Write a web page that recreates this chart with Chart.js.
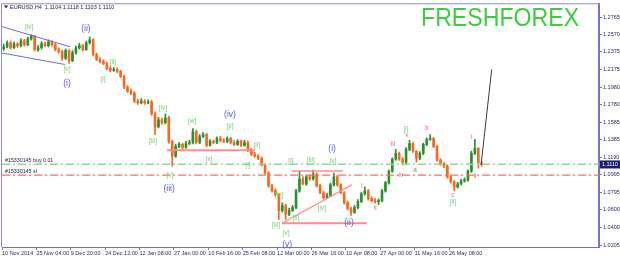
<!DOCTYPE html>
<html>
<head>
<meta charset="utf-8">
<script src="https://cdn.jsdelivr.net/npm/chart.js@4/dist/chart.umd.min.js"></script>
<style>
html, body { margin: 0; padding: 0; background: #fff; }
#myChart { display: block; }
</style>
</head>
<body>
<canvas id="myChart" width="620" height="257"></canvas>
<script>
'use strict';

// candles (about one candle per 3.4 px)
const opens = [
  1.2410,1.2432,1.2477,1.2421,1.2466,1.2444,1.2499,1.2455,1.2521,1.2554,
  1.2399,1.2421,1.2466,1.2444,1.2488,1.2455,1.2399,1.2377,1.2300,1.2388,
  1.2277,1.2366,1.2421,1.2444,1.2399,1.2477,1.2510,1.2344,1.2288,1.2266,
  1.2244,1.2189,1.2167,1.2178,1.2155,1.2100,1.1978,1.1934,1.1912,1.1823,
  1.1801,1.1823,1.1801,1.1812,1.1679,1.1535,1.1612,1.1579,1.1635,1.1369,
  1.1202,1.1313,1.1335,1.1302,1.1346,1.1357,1.1479,1.1357,1.1424,1.1446,
  1.1324,1.1369,1.1357,1.1402,1.1380,1.1369,1.1402,1.1357,1.1335,1.1369,
  1.1324,1.1357,1.1269,1.1225,1.1202,1.1180,1.1103,1.1014,1.0870,1.0814,
  1.0770,1.0593,1.0648,1.0548,1.0593,1.0626,1.0814,1.0947,1.0892,1.0970,
  1.0947,1.1003,1.0870,1.0792,1.0737,1.0759,1.0881,1.0970,1.0881,1.0792,
  1.0681,1.0615,1.0571,1.0626,1.0692,1.0781,1.0814,1.0726,1.0704,1.0692,
  1.0704,1.0814,1.0903,1.1036,1.1169,1.1235,1.1169,1.1136,1.1280,1.1346,
  1.1258,1.1180,1.1235,1.1335,1.1391,1.1402,1.1313,1.1158,1.1114,1.1091,
  1.0970,1.0914,1.0859,1.0892,1.0925,1.0936,1.1036,1.1235,1.1291,1.1125
];
const closes = [
  1.2432,1.2477,1.2421,1.2466,1.2444,1.2499,1.2455,1.2521,1.2554,1.2399,
  1.2421,1.2466,1.2444,1.2488,1.2455,1.2399,1.2377,1.2300,1.2388,1.2277,
  1.2366,1.2421,1.2444,1.2399,1.2477,1.2510,1.2344,1.2288,1.2266,1.2244,
  1.2189,1.2167,1.2178,1.2155,1.2100,1.1978,1.1934,1.1912,1.1823,1.1801,
  1.1823,1.1801,1.1812,1.1679,1.1535,1.1612,1.1579,1.1635,1.1369,1.1202,
  1.1313,1.1335,1.1302,1.1346,1.1357,1.1479,1.1357,1.1424,1.1446,1.1324,
  1.1369,1.1357,1.1402,1.1380,1.1369,1.1402,1.1357,1.1335,1.1369,1.1324,
  1.1357,1.1269,1.1225,1.1202,1.1180,1.1103,1.1014,1.0870,1.0814,1.0770,
  1.0593,1.0648,1.0548,1.0593,1.0626,1.0814,1.0947,1.0892,1.0970,1.0947,
  1.1003,1.0870,1.0792,1.0737,1.0759,1.0881,1.0970,1.0881,1.0792,1.0681,
  1.0615,1.0571,1.0626,1.0692,1.0781,1.0814,1.0726,1.0704,1.0692,1.0704,
  1.0814,1.0903,1.1036,1.1169,1.1235,1.1169,1.1136,1.1280,1.1346,1.1258,
  1.1180,1.1235,1.1335,1.1391,1.1402,1.1313,1.1158,1.1114,1.1091,1.0970,
  1.0914,1.0859,1.0892,1.0925,1.0936,1.1036,1.1235,1.1291,1.1125,1.1110
];
const highs = [
  1.2462,1.2500,1.2495,1.2488,1.2480,1.2520,1.2515,1.2540,1.2565,1.2560,
  1.2445,1.2490,1.2485,1.2510,1.2500,1.2470,1.2420,1.2395,1.2410,1.2400,
  1.2390,1.2440,1.2470,1.2460,1.2495,1.2543,1.2525,1.2360,1.2310,1.2285,
  1.2260,1.2210,1.2200,1.2195,1.2170,1.2115,1.1995,1.1960,1.1930,1.1845,
  1.1850,1.1840,1.1835,1.1830,1.1700,1.1640,1.1630,1.1679,1.1650,1.1385,
  1.1340,1.1360,1.1350,1.1370,1.1380,1.1512,1.1495,1.1445,1.1468,1.1460,
  1.1390,1.1385,1.1420,1.1425,1.1400,1.1420,1.1415,1.1380,1.1390,1.1385,
  1.1380,1.1375,1.1290,1.1245,1.1220,1.1195,1.1120,1.1030,1.0890,1.0835,
  1.0785,1.0680,1.0665,1.0620,1.0650,1.0830,1.1036,1.0975,1.0990,1.0995,
  1.1047,1.1015,1.0890,1.0810,1.0785,1.0900,1.1014,1.0985,1.0895,1.0805,
  1.0700,1.0630,1.0650,1.0715,1.0800,1.0859,1.0830,1.0750,1.0730,1.0725,
  1.0830,1.0920,1.1050,1.1185,1.1280,1.1250,1.1190,1.1300,1.1380,1.1360,
  1.1270,1.1255,1.1350,1.1410,1.1446,1.1415,1.1325,1.1175,1.1130,1.1105,
  1.0985,1.0930,1.0910,1.0945,1.0960,1.1050,1.1260,1.1391,1.1300,1.1140
];
const lows = [
  1.2390,1.2420,1.2405,1.2410,1.2425,1.2430,1.2440,1.2445,1.2505,1.2385,
  1.2380,1.2405,1.2430,1.2430,1.2440,1.2385,1.2360,1.2280,1.2290,1.2244,
  1.2265,1.2350,1.2405,1.2385,1.2390,1.2460,1.2330,1.2275,1.2250,1.2230,
  1.2175,1.2150,1.2155,1.2140,1.2085,1.1960,1.1920,1.1895,1.1805,1.1785,
  1.1790,1.1785,1.1790,1.1660,1.1446,1.1520,1.1560,1.1565,1.1350,1.1091,
  1.1190,1.1295,1.1285,1.1290,1.1330,1.1340,1.1340,1.1345,1.1410,1.1310,
  1.1315,1.1340,1.1345,1.1365,1.1355,1.1355,1.1340,1.1320,1.1325,1.1310,
  1.1315,1.1255,1.1210,1.1190,1.1165,1.1090,1.1000,1.0855,1.0800,1.0755,
  1.0493,1.0575,1.0493,1.0535,1.0580,1.0610,1.0800,1.0880,1.0875,1.0930,
  1.0935,1.0855,1.0780,1.0720,1.0725,1.0745,1.0865,1.0865,1.0780,1.0665,
  1.0600,1.0537,1.0560,1.0610,1.0680,1.0765,1.0710,1.0690,1.0675,1.0659,
  1.0690,1.0800,1.0890,1.1020,1.1155,1.1155,1.1103,1.1120,1.1265,1.1245,
  1.1136,1.1165,1.1220,1.1320,1.1380,1.1300,1.1145,1.1100,1.1075,1.0955,
  1.0900,1.0814,1.0845,1.0880,1.0910,1.0920,1.1020,1.1220,1.1069,1.1090
];

const xTickLabels = ['10 Nov 2014', '25 Nov 04:00', '9 Dec 20:00', '24 Dec 12:00', '12 Jan 08:00',
  '27 Jan 00:00', '10 Feb 16:00', '25 Feb 08:00', '12 Mar 00:00', '26 Mar 16:00', '10 Apr 08:00',
  '27 Apr 00:00', '11 May 16:00', '26 May 08:00'];
const yTicks = [1.2765, 1.2570, 1.2375, 1.2175, 1.1980, 1.1780, 1.1585, 1.1385, 1.1190,
  1.0995, 1.0795, 1.0600, 1.0400, 1.0205];

const header = 'EURUSD,H4  1.1104 1.1118 1.1103 1.1110';
const buyLevel = 1.1112;
const slLevel = 1.0990;

// wave marks: [text, candle index, price]
const blueWaves = [['(i)', 18.4, 1.2022], ['(ii)', 23.9, 1.2632], ['(iii)', 48.1, 1.0837],
  ['(iv)', 65.8, 1.1668], ['(v)', 82.4, 1.0205], ['(i)', 95.5, 1.1291], ['(ii)', 100.4, 1.0460]];
const greenWaves = [['[iv]', 7.4, 1.2654], ['[v]', 18.4, 1.2178], ['[i]', 28.9, 1.2067], ['[ii]', 31.8, 1.2255],
  ['[iii]', 43.4, 1.1369], ['[iv]', 46.3, 1.1745], ['[v]', 48.4, 1.0992], ['[w]', 54.8, 1.1601],
  ['[x]', 59.7, 1.1169], ['[y]', 65.8, 1.1535], ['[i]', 71.0, 1.1103], ['[ii]', 73.6, 1.1324],
  ['[iii]', 79.2, 1.0427], ['[iv]', 80.0, 1.0770], ['[v]', 82.1, 1.0338], ['[i]', 83.5, 1.1147],
  ['[ii]', 85.0, 1.0504], ['[iii]', 89.3, 1.1158], ['[iv]', 92.5, 1.0615], ['[v]', 95.8, 1.1147],
  ['[i]', 117.0, 1.1501], ['[ii]', 130.6, 1.0681]];
const redWaves = [['i', 104.2, 1.0870], ['ii', 108.0, 1.0615], ['iii', 113.2, 1.1335], ['iv', 115.5, 1.0992],
  ['v', 117.2, 1.1435], ['a', 119.6, 1.1047], ['b', 123.1, 1.1513], ['c', 130.6, 1.0770],
  ['i', 136.1, 1.1413], ['ii', 137.0, 1.0981]];

const FONT = "'Liberation Sans', Arial, sans-serif";
const UP = '#2f8f2f';
const DOWN = '#f56a22';
const AXIS = '#7474c4';

let candleColors = closes.map((c, i) => c >= opens[i] ? UP : DOWN);

function seg(pts, color, width, dash) {
  return {
    type: 'line',
    data: pts.map(p => ({x: p[0], y: p[1]})),
    borderColor: color,
    borderWidth: width,
    borderDash: dash || [],
    pointRadius: 0,
    fill: false,
    order: 1,
  };
}

const overlay = {
  id: 'overlay',
  afterDraw(chart) {
    const {ctx, chartArea: a, scales: {x, y}} = chart;
    ctx.save();
    ctx.strokeStyle = '#8a8ad0';
    ctx.lineWidth = 1;
    ctx.beginPath();
    ctx.moveTo(a.left - 0.5, a.bottom);
    ctx.lineTo(a.left - 0.5, a.top - 0.5);
    ctx.lineTo(a.right, a.top - 0.5);
    ctx.stroke();

    // header
    ctx.fillStyle = '#22224a';
    ctx.beginPath();
    ctx.moveTo(4, 5.5); ctx.lineTo(8, 5.5); ctx.lineTo(6, 8.5); ctx.closePath();
    ctx.fill();
    ctx.font = '5.5px ' + FONT;
    ctx.textBaseline = 'middle';
    ctx.textAlign = 'left';
    ctx.fillText(header, 10, 7.5);

    // brand
    ctx.save();
    ctx.translate(421, 26);
    ctx.scale(0.89, 1);
    ctx.font = '26px ' + FONT;
    ctx.fillStyle = '#3fcc3f';
    ctx.textBaseline = 'alphabetic';
    ctx.fillText('FRESHFOREX', 0, 0);
    ctx.restore();

    // order labels
    ctx.font = '5.3px ' + FONT;
    ctx.fillStyle = '#22224a';
    ctx.textBaseline = 'bottom';
    ctx.fillText('#15330145 buy 0.01', a.left + 3, y.getPixelForValue(buyLevel) - 1);
    ctx.fillText('#15330145 sl', a.left + 3, y.getPixelForValue(slLevel) - 1);

    // wave labels
    ctx.textAlign = 'center';
    ctx.textBaseline = 'middle';
    const put = (list, font, color) => {
      ctx.font = font;
      ctx.fillStyle = color;
      list.forEach(w => ctx.fillText(w[0], x.getPixelForValue(w[1]), y.getPixelForValue(w[2])));
    };
    put(blueWaves, '8.5px ' + FONT, '#5656dc');
    put(greenWaves, '6.6px ' + FONT, '#6fd46f');
    put(redWaves, '6.4px ' + FONT, '#ff5a5a');

    // last price box
    const last = closes[closes.length - 1];
    const py = y.getPixelForValue(last);
    ctx.fillStyle = '#1c1c6c';
    ctx.fillRect(a.right + 1, py - 4, 21, 8);
    ctx.fillStyle = '#ffffff';
    ctx.textAlign = 'left';
    ctx.font = '5.5px ' + FONT;
    ctx.fillText(last.toFixed(4), a.right + 3, py + 0.5);
    ctx.restore();
  }
};

const chart = document.getElementById('myChart');
const myChart = new Chart(chart, {
  type: 'bar',
  data: {
    datasets: [
      {
        data: opens.map((o, i) => ({x: i, y: [lows[i], highs[i]]})),
        backgroundColor: candleColors,
        barThickness: 1,
        grouped: false,
        order: 3,
      },
      {
        data: opens.map((o, i) => ({x: i, y: [o, closes[i]]})),
        backgroundColor: candleColors,
        barThickness: 2,
        minBarLength: 1,
        grouped: false,
        order: 2,
      },
      seg([[-1.1, 1.2665], [19.3, 1.2432]], '#6c6ce0', 1),
      seg([[-1.1, 1.2366], [17.8, 1.2233]], '#6c6ce0', 1),
      seg([[47.5, 1.1269], [73.1, 1.1269]], '#ff8c8c', 2),
      seg([[83.8, 1.1036], [98.6, 1.1036]], '#ff8c8c', 1.5),
      seg([[80.9, 1.0449], [105.6, 1.0449]], '#ff8c8c', 2),
      seg([[80.9, 1.0449], [101.2, 1.0881]], '#ff8c8c', 1.2),
      seg([[-0.5, buyLevel], [173.1, buyLevel]], '#8fd88f', 1.5, [8, 3, 2, 3]),
      seg([[-0.5, slLevel], [173.1, slLevel]], '#ff6a6a', 1.2, [8, 3, 2, 3]),
      seg([[138.8, 1.1103], [141.9, 1.2178]], '#3a3a3a', 1),
    ],
  },
  options: {
    responsive: false,
    animation: false,
    devicePixelRatio: 1,
    layout: {padding: {left: 2, top: 1, right: 0, bottom: 0}},
    plugins: {legend: {display: false}, tooltip: {enabled: false}},
    scales: {
      x: {
        type: 'linear',
        position: 'bottom',
        min: -0.5,
        max: 173.1,
        offset: false,
        afterBuildTicks: s => { s.ticks = xTickLabels.map((t, k) => ({value: k * 10 - 0.5})); },
        afterFit: s => { s.height = 10; },
        ticks: {
          callback: (v, i) => xTickLabels[i],
          autoSkip: false,
          maxRotation: 0,
          align: 'start',
          padding: 0,
          color: '#2a2a5a',
          font: {family: FONT, size: 5.5},
        },
        grid: {drawOnChartArea: false, drawTicks: true, tickLength: 3, color: AXIS, offset: false},
        border: {display: true, color: AXIS, width: 1},
      },
      y: {
        type: 'linear',
        position: 'right',
        min: 1.0183,
        max: 1.2909,
        afterBuildTicks: s => { s.ticks = yTicks.map(v => ({value: v})); },
        afterFit: s => { s.width = 21; },
        ticks: {
          callback: v => v.toFixed(4),
          padding: 1,
          color: '#2a2a5a',
          font: {family: FONT, size: 5.5},
        },
        grid: {drawOnChartArea: false, drawTicks: true, tickLength: 3, color: AXIS},
        border: {display: true, color: AXIS, width: 2},
      },
    },
  },
  plugins: [overlay],
});
</script>
</body>
</html>
